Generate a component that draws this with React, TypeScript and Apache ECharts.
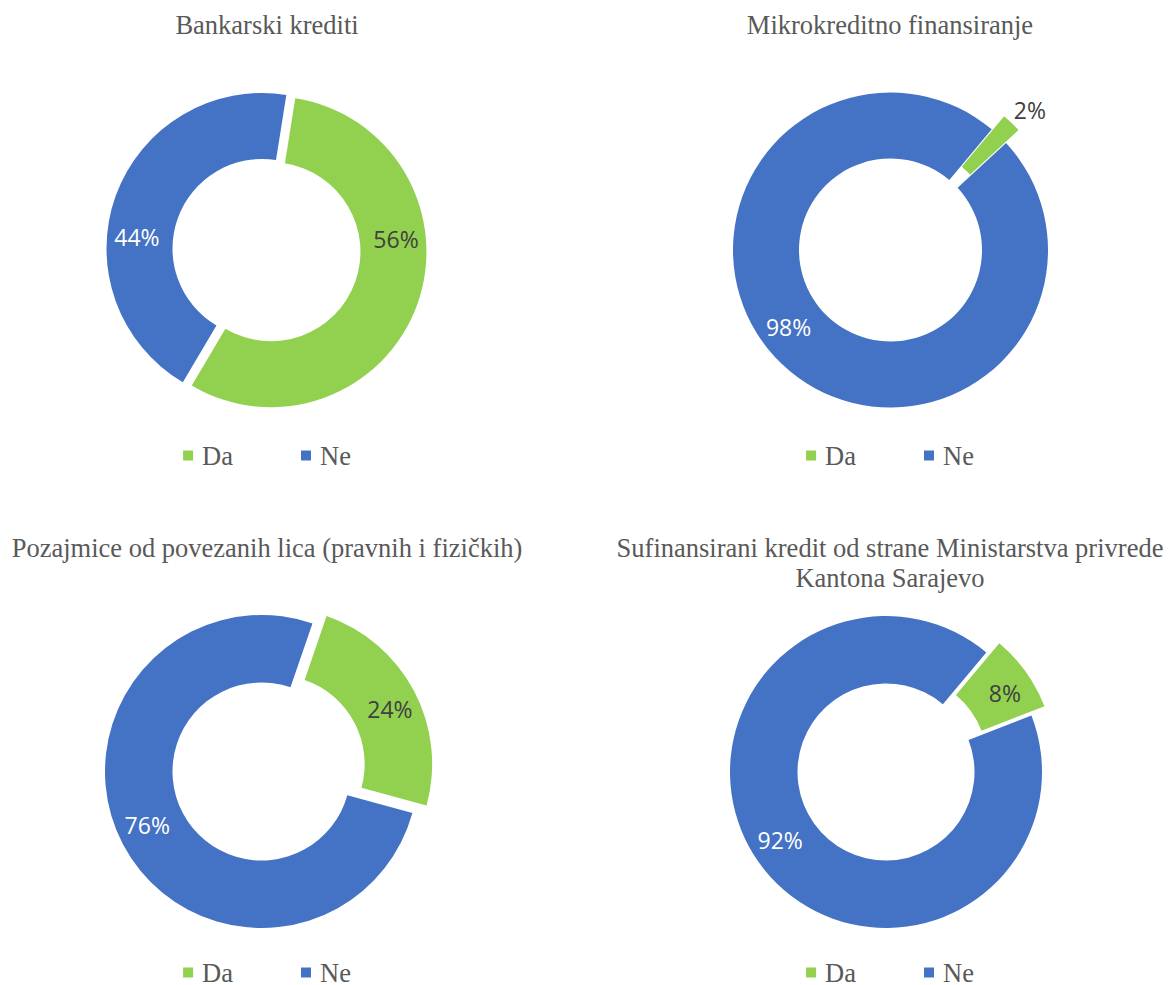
import React, { useEffect, useRef } from 'react';
import * as echarts from 'echarts';

// ---- data ----
const categories = ['Da', 'Ne'];
const chartTitles = [
  'Bankarski krediti',
  'Mikrokreditno finansiranje',
  'Pozajmice od povezanih lica (pravnih i fizičkih)',
  'Sufinansirani kredit od strane Ministarstva privrede\nKantona Sarajevo',
];
const bankarskiKrediti = [56, 44];
const mikrokreditnoFinansiranje = [2, 98];
const pozajmiceOdPovezanihLica = [24, 76];
const sufinansiraniKredit = [8, 92];
const allValues = [bankarskiKrediti, mikrokreditnoFinansiranje, pozajmiceOdPovezanihLica, sufinansiraniKredit];

// ---- styles / layout ----
const sliceColors = ['#92D050', '#4472C4'];
const labelColors = ['#404040', '#FFFFFF'];
const textGray = '#595959';
const serif = 'Liberation Serif';
const labelFont = 'Open Sans';
const labelSize = 23;

const layouts = [
  { left: 0, top: 0, width: 534, height: 492, center: [262, 248.5], radius: [89.5, 155.5], startAngle: 81, explode: 9.5, titleTop: 10, legendTop: 442, offsets: [[7, -55], [-7, 31]] },
  { left: 612, top: 0, width: 556, height: 492, center: [278.5, 250], radius: [91.5, 157.5], startAngle: 50, explode: 18, titleTop: 10, legendTop: 442, offsets: [[39, -35], [-14, -15]] },
  { left: 0, top: 492, width: 534, height: 493, center: [261.5, 279.5], radius: [89, 156.5], startAngle: 71, explode: 16, titleTop: 41, legendTop: 467, offsets: [[3, 4], [-3, -5]] },
  { left: 612, top: 492, width: 556, height: 493, center: [274, 280], radius: [88.5, 156], startAngle: 50, explode: 16, titleTop: 41, legendTop: 467, offsets: [[4, 3], [-4, -5]] },
];

function labelFor(value: number, off: number[], color: string) {
  const [ox, oy] = off;
  const h = Math.abs(2 * oy);
  const main = `{v|${value}%}`;
  const text = oy < 0 ? `${main}\n{sp| }` : oy > 0 ? `{sp| }\n${main}` : main;
  return {
    color,
    formatter: () => text,
    padding: [0, Math.max(0, -2 * ox), 0, Math.max(0, 2 * ox)],
    rich: {
      v: { fontFamily: labelFont, fontSize: labelSize, color, lineHeight: 30 },
      sp: { fontSize: 1, height: Math.max(h, 1), lineHeight: Math.max(h, 1) },
    },
  };
}

function Donut({ idx }: { idx: number }) {
  const ref = useRef<HTMLDivElement>(null);
  const L = layouts[idx];
  useEffect(() => {
    const chart = echarts.init(ref.current!, null, { renderer: 'svg' });
    const values = allValues[idx];
    chart.setOption({
      animation: false,
      title: {
        text: chartTitles[idx],
        left: 'center',
        top: L.titleTop,
        padding: 0,
        textStyle: {
          fontFamily: serif,
          fontSize: 26.5,
          fontWeight: 'normal',
          color: textGray,
          lineHeight: 30,
        },
      },
      legend: {
        data: categories,
        left: 'center',
        top: L.legendTop,
        padding: 0,
        icon: 'rect',
        itemWidth: 10,
        itemHeight: 10,
        itemGap: 68,
        selectedMode: false,
        textStyle: {
          fontFamily: serif,
          fontSize: 26.5,
          color: textGray,
          lineHeight: 26,
          padding: [0, 0, 0, 4],
        },
      },
      series: [
        {
          type: 'pie',
          center: L.center,
          radius: L.radius,
          startAngle: L.startAngle,
          clockwise: true,
          selectedMode: 'multiple',
          selectedOffset: L.explode,
          avoidLabelOverlap: false,
          emphasis: { disabled: true },
          label: {
            show: true,
            position: 'inside',
            fontFamily: labelFont,
            fontSize: labelSize,
          },
          labelLine: { show: false },
          data: categories.map((name, i) => ({
            name,
            value: values[i],
            selected: i === 0,
            itemStyle: { color: sliceColors[i] },
            label: labelFor(values[i], L.offsets[i], labelColors[i]),
          })),
        },
      ],
    });
    return () => chart.dispose();
  }, []);
  return (
    <div
      ref={ref}
      style={{ position: 'absolute', left: L.left, top: L.top, width: L.width, height: L.height }}
    />
  );
}

export default function App() {
  return (
    <div style={{ position: 'fixed', left: 0, top: 0, width: 1169, height: 985, background: '#ffffff' }}>
      {layouts.map((_, i) => (
        <Donut key={i} idx={i} />
      ))}
    </div>
  );
}
